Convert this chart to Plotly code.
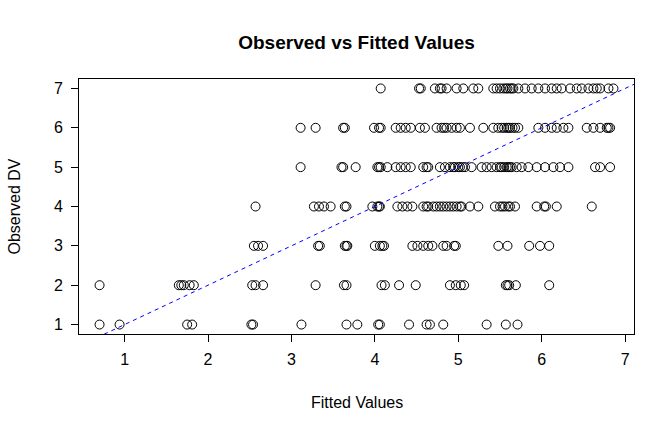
import plotly.graph_objects as go

# Observed DV levels and fitted values
fitted_obs1 = [0.70, 0.94, 1.75, 1.81, 2.52, 2.54, 3.12, 3.66, 3.79, 4.04, 4.06,
               4.41, 4.62, 4.66, 4.82, 5.34, 5.57, 5.71]
fitted_obs2 = [0.70, 1.65, 1.68, 1.71, 1.78, 1.83, 2.53, 2.57, 2.66, 3.29, 3.63,
               3.66, 4.08, 4.12, 4.29, 4.49, 4.90, 4.97, 5.03, 5.07, 5.57, 5.59,
               5.61, 5.69, 6.09]
fitted_obs3 = [2.55, 2.60, 2.66, 3.32, 3.34, 3.64, 3.66, 3.67, 4.00, 4.06, 4.09,
               4.11, 4.45, 4.51, 4.58, 4.64, 4.69, 4.82, 4.86, 4.95, 4.97, 5.48,
               5.59, 5.85, 5.98, 6.09]
fitted_obs4 = [2.57, 3.27, 3.33, 3.39, 3.47, 3.64, 3.66, 3.97, 4.03, 4.05, 4.06,
               4.27, 4.33, 4.39, 4.45, 4.58, 4.62, 4.64, 4.70, 4.74, 4.78, 4.82,
               4.86, 4.90, 4.94, 4.98, 5.02, 5.04, 5.14, 5.24, 5.44, 5.50, 5.53,
               5.56, 5.60, 5.62, 5.68, 5.94, 6.03, 6.05, 6.18, 6.60]
fitted_obs5 = [3.11, 3.60, 3.62, 3.77, 4.03, 4.05, 4.07, 4.15, 4.25, 4.31, 4.37,
               4.43, 4.58, 4.62, 4.64, 4.78, 4.84, 4.90, 4.94, 4.96, 5.00, 5.02,
               5.05, 5.08, 5.16, 5.28, 5.34, 5.40, 5.46, 5.50, 5.52, 5.55, 5.58,
               5.60, 5.62, 5.64, 5.70, 5.76, 5.84, 5.94, 6.04, 6.14, 6.22, 6.32,
               6.64, 6.70, 6.82]
fitted_obs6 = [3.11, 3.29, 3.62, 3.64, 3.99, 4.05, 4.07, 4.25, 4.31, 4.37, 4.43,
               4.54, 4.60, 4.74, 4.80, 4.83, 4.86, 4.92, 4.98, 5.02, 5.14, 5.30,
               5.42, 5.48, 5.52, 5.55, 5.58, 5.60, 5.62, 5.65, 5.68, 5.72, 5.96,
               6.04, 6.12, 6.18, 6.26, 6.32, 6.54, 6.62, 6.70, 6.78, 6.80, 6.82]
fitted_obs7 = [4.07, 4.53, 4.55, 4.72, 4.78, 4.80, 4.86, 4.98, 5.06, 5.18, 5.24,
               5.42, 5.46, 5.50, 5.54, 5.57, 5.59, 5.62, 5.64, 5.66, 5.72, 5.80,
               5.88, 5.96, 6.04, 6.12, 6.18, 6.24, 6.34, 6.42, 6.48, 6.56, 6.62,
               6.66, 6.70, 6.80, 6.86]

observed_levels = [1, 2, 3, 4, 5, 6, 7]
fitted_by_level = [fitted_obs1, fitted_obs2, fitted_obs3, fitted_obs4,
                   fitted_obs5, fitted_obs6, fitted_obs7]

x_ticks = [1, 2, 3, 4, 5, 6, 7]
y_ticks = [1, 2, 3, 4, 5, 6, 7]

# reference line y = a + b x
line_intercept = 0
line_slope = 1

xs, ys = [], []
for lvl, fv in zip(observed_levels, fitted_by_level):
    xs.extend(fv)
    ys.extend([lvl] * len(fv))

# R-style 4% axis extension
xmin, xmax = min(xs), max(xs)
ymin, ymax = min(ys), max(ys)
xr = [xmin - 0.04 * (xmax - xmin), xmax + 0.04 * (xmax - xmin)]
yr = [ymin - 0.04 * (ymax - ymin), ymax + 0.04 * (ymax - ymin)]

FONT = "Liberation Sans, Arial, Helvetica, sans-serif"

fig = go.Figure()
fig.add_trace(go.Scatter(
    x=xs, y=ys, mode="markers",
    marker=dict(symbol="circle-open", size=9, color="black",
                line=dict(width=1, color="black")),
    showlegend=False, hoverinfo="x+y", cliponaxis=False,
))
fig.add_trace(go.Scatter(
    x=[xr[0] - 1, xr[1] + 1],
    y=[line_intercept + line_slope * (xr[0] - 1), line_intercept + line_slope * (xr[1] + 1)],
    mode="lines", line=dict(color="blue", width=1, dash="4px,4px"),
    showlegend=False, hoverinfo="skip",
))

axis_common = dict(
    showgrid=False, zeroline=False, showline=True, linecolor="black",
    linewidth=1, mirror=True, ticks="outside", ticklen=7, tickwidth=1,
    tickcolor="black", tickfont=dict(family=FONT, size=16, color="black"),
)

fig.update_layout(
    width=672, height=432,
    margin=dict(l=79, r=38, t=79, b=98),
    paper_bgcolor="white", plot_bgcolor="white",
    title=dict(text="<b>Observed vs Fitted Values</b>", x=0.5, xref="paper",
               y=1 - 42 / 432, yref="container", yanchor="middle",
               font=dict(family=FONT, size=19, color="black")),
    xaxis=dict(range=xr, tickvals=x_ticks, ticktext=[str(t) for t in x_ticks],
               ticklabelstandoff=4, **axis_common),
    yaxis=dict(range=yr, tickvals=y_ticks, ticktext=[str(t) for t in y_ticks],
               ticklabelstandoff=5, **axis_common),
    annotations=[
        dict(text="Fitted Values", xref="paper", yref="paper", x=0.5, y=0,
             yshift=-68, showarrow=False, yanchor="middle",
             font=dict(family=FONT, size=16, color="black")),
        dict(text="Observed DV", xref="paper", yref="paper", x=0, y=0.5,
             xshift=-65, showarrow=False, xanchor="center", yanchor="middle",
             textangle=-90, font=dict(family=FONT, size=16, color="black")),
    ],
)

fig.write_html("out.html",
               config={"displayModeBar": False},
               post_script="document.body.style.margin='0';document.body.style.padding='0';")
